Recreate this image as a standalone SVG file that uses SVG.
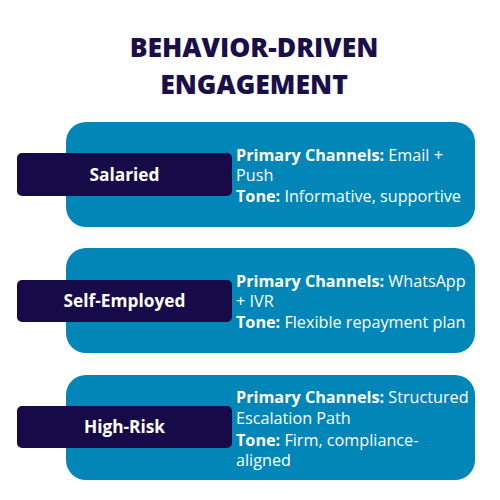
<svg xmlns="http://www.w3.org/2000/svg" width="500" height="500" viewBox="0 0 500 500">
<style>
.title{font-family:"Open Sans","Liberation Sans",sans-serif;font-weight:800;font-size:26.5px;fill:#1a0f4a;text-anchor:middle}
.card{fill:#0286b8}
.tag{fill:#170a48}
.lbl{font-family:"Open Sans","Liberation Sans",sans-serif;font-weight:700;font-size:17.3px;fill:#ffffff;text-anchor:middle}
.body{font-family:"Open Sans","Liberation Sans",sans-serif;font-size:16.2px;fill:#ffffff}
.b{font-weight:700}
</style>
<rect width="500" height="500" fill="#ffffff"/>
<g id="title">
<text class="title" x="254" y="57">BEHAVIOR-DRIVEN</text>
<text class="title" x="254" y="94">ENGAGEMENT</text>
</g>
<g id="connectors"></g>
<g id="salaried">
<rect class="card" x="66" y="122" width="409" height="105" rx="20"/>
<rect class="tag" x="17" y="153" width="215" height="43" rx="5"/>
<text class="lbl" x="124.5" y="181">Salaried</text>
<text class="body" x="236" y="161"><tspan class="b">Primary Channels:</tspan> Email +</text>
<text class="body" x="236" y="181">Push</text>
<text class="body" x="236" y="202"><tspan class="b">Tone:</tspan> Informative, supportive</text>
</g>
<g id="self-employed">
<rect class="card" x="66" y="248" width="409" height="105" rx="20"/>
<rect class="tag" x="17" y="280" width="215" height="42" rx="5"/>
<text class="lbl" x="124.5" y="307">Self-Employed</text>
<text class="body" x="236" y="287"><tspan class="b">Primary Channels:</tspan> WhatsApp</text>
<text class="body" x="236" y="307">+ IVR</text>
<text class="body" x="236" y="328"><tspan class="b">Tone:</tspan> Flexible repayment plan</text>
</g>
<g id="high-risk">
<rect class="card" x="66" y="375" width="409" height="105" rx="20"/>
<rect class="tag" x="17" y="406" width="215" height="42" rx="5"/>
<text class="lbl" x="124.5" y="433">High-Risk</text>
<text class="body" x="236" y="403"><tspan class="b">Primary Channels:</tspan> Structured</text>
<text class="body" x="236" y="424">Escalation Path</text>
<text class="body" x="236" y="446"><tspan class="b">Tone:</tspan> Firm, compliance-</text>
<text class="body" x="236" y="466">aligned</text>
</g>
</svg>
